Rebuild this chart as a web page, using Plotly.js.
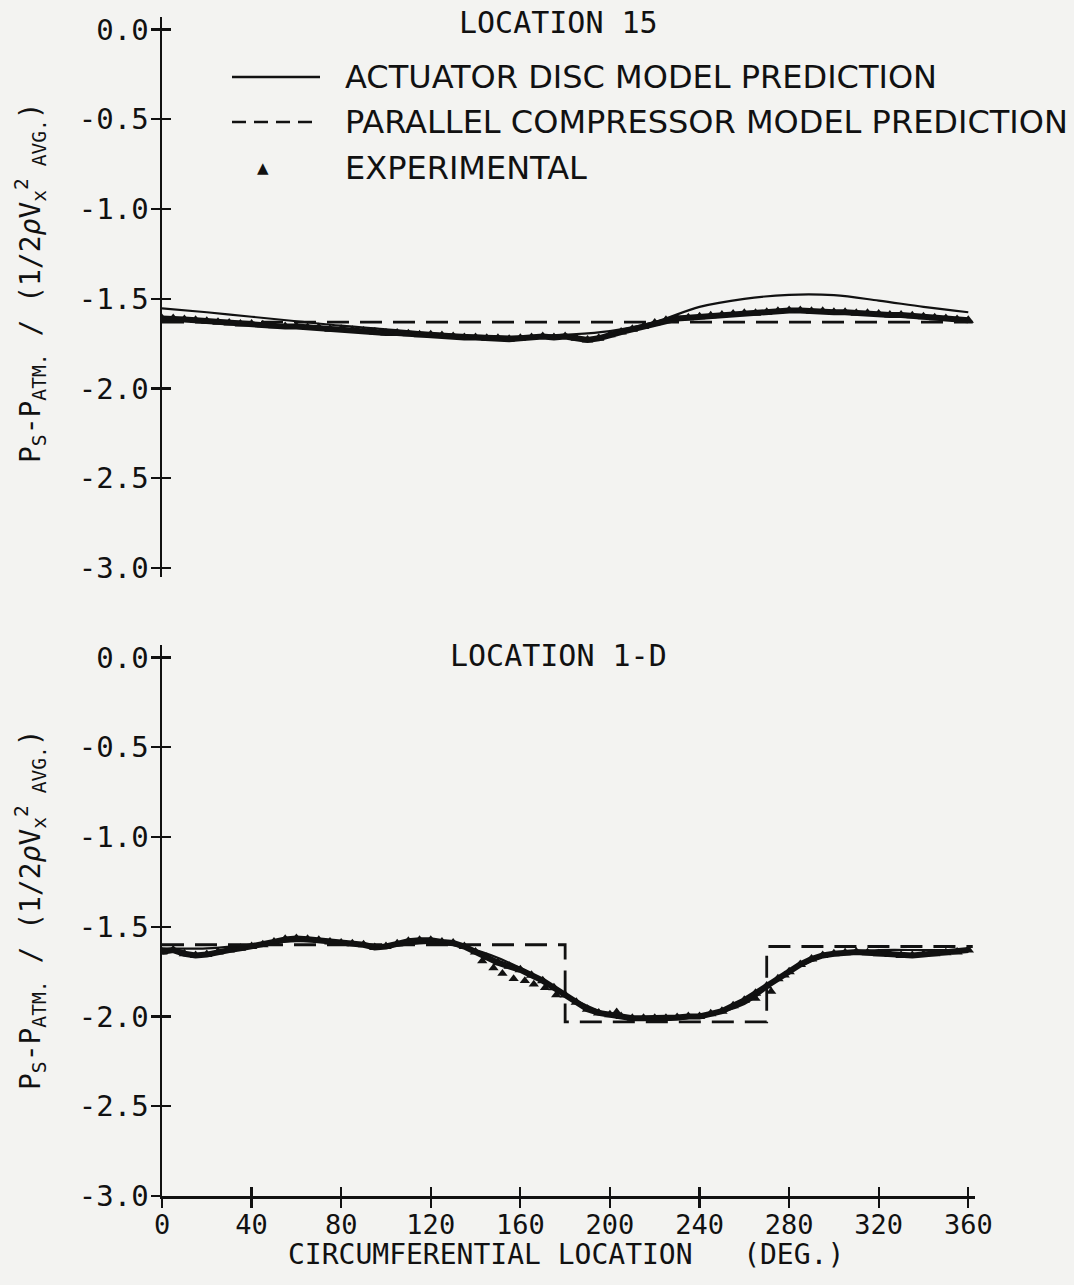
<!DOCTYPE html>
<html>
<head>
<meta charset="utf-8">
<script src="https://cdn.plot.ly/plotly-3.0.1.min.js"></script>
<style>
  html, body { margin: 0; padding: 0; background: #f3f3f1; }
  #chart { width: 1074px; height: 1285px; }
</style>
</head>
<body>
<div id="chart"></div>
<script>
// ---------------- DATA ----------------
// Tick labels
const yTickVals = [0, -0.5, -1.0, -1.5, -2.0, -2.5, -3.0];
const yTickLabels = ["0.0", "-0.5", "-1.0", "-1.5", "-2.0", "-2.5", "-3.0"];
const xTickVals = [0, 40, 80, 120, 160, 200, 240, 280, 320, 360];
const xTickLabels = ["0", "40", "80", "120", "160", "200", "240", "280", "320", "360"];

// Model prediction angles (deg)
const modelAngles = [0, 20, 40, 60, 80, 100, 120, 140, 160, 180, 200, 220, 240, 260, 280, 300, 320, 340, 360];

// LOCATION 15 - actuator disc model prediction
const loc15Actuator = [-1.553, -1.575, -1.600, -1.625, -1.650, -1.670, -1.690, -1.705, -1.710, -1.700, -1.680, -1.630, -1.545, -1.500, -1.478, -1.480, -1.510, -1.545, -1.575];
// LOCATION 15 - parallel compressor model prediction
const loc15ParallelAngles = [0, 362];
const loc15Parallel = [-1.63, -1.63];

// Experimental angles (deg)
const expAngles = [0, 5, 10, 15, 20, 25, 30, 35, 40, 45, 50, 55, 60, 65, 70, 75, 80, 85, 90, 95,
  100, 105, 110, 115, 120, 125, 130, 135, 140, 145, 150, 155, 160, 165, 170, 175, 180, 185, 190, 195,
  200, 205, 210, 215, 220, 225, 230, 235, 240, 245, 250, 255, 260, 265, 270, 275, 280, 285, 290, 295,
  300, 305, 310, 315, 320, 325, 330, 335, 340, 345, 350, 355, 360];

// LOCATION 15 - experimental
const loc15Exp = [-1.61, -1.61, -1.615, -1.62, -1.625, -1.63, -1.635, -1.64, -1.64, -1.645,
  -1.65, -1.655, -1.655, -1.66, -1.66, -1.67, -1.67, -1.675, -1.68, -1.685,
  -1.69, -1.69, -1.695, -1.70, -1.70, -1.705, -1.71, -1.715, -1.715, -1.72,
  -1.72, -1.725, -1.72, -1.715, -1.71, -1.715, -1.71, -1.72, -1.73, -1.72,
  -1.70, -1.685, -1.67, -1.655, -1.635, -1.62, -1.61, -1.605, -1.60, -1.595,
  -1.59, -1.585, -1.58, -1.58, -1.575, -1.57, -1.565, -1.565, -1.57, -1.57,
  -1.575, -1.575, -1.58, -1.58, -1.585, -1.59, -1.59, -1.595, -1.60, -1.605,
  -1.61, -1.615, -1.62];

// LOCATION 1-D - actuator disc model prediction
const loc1DActuator = [-1.62, -1.62, -1.60, -1.58, -1.59, -1.61, -1.59, -1.63, -1.73, -1.88, -1.99, -2.02, -2.00, -1.93, -1.75, -1.65, -1.63, -1.63, -1.63];
// LOCATION 1-D - parallel compressor model prediction (step profile)
const loc1DParallelAngles = [0, 180, 180, 270, 270, 362];
const loc1DParallel = [-1.60, -1.60, -2.03, -2.03, -1.61, -1.61];

// LOCATION 1-D - experimental
const loc1DExp = [-1.64, -1.63, -1.65, -1.66, -1.655, -1.64, -1.63, -1.62, -1.61, -1.60,
  -1.585, -1.57, -1.565, -1.57, -1.575, -1.585, -1.59, -1.595, -1.60, -1.615,
  -1.61, -1.595, -1.58, -1.575, -1.575, -1.585, -1.59, -1.61, -1.64, -1.67,
  -1.70, -1.72, -1.74, -1.77, -1.80, -1.84, -1.88, -1.92, -1.96, -1.98,
  -1.99, -2.00, -2.01, -2.01, -2.01, -2.01, -2.005, -2.00, -2.00, -1.985,
  -1.97, -1.94, -1.91, -1.87, -1.83, -1.79, -1.75, -1.71, -1.68, -1.66,
  -1.65, -1.645, -1.64, -1.645, -1.65, -1.655, -1.66, -1.66, -1.655, -1.65,
  -1.645, -1.64, -1.63];
// LOCATION 1-D - scattered experimental points off the main band
const loc1DScatterAngles = [143, 148, 152, 157, 162, 166, 171, 176, 203, 265, 272, 278];
const loc1DScatter = [-1.69, -1.73, -1.76, -1.79, -1.80, -1.82, -1.84, -1.88, -1.975, -1.90, -1.86, -1.77];

// ---------------- STYLE ----------------
const INK = "#111111";
const BG = "#f3f3f1";
const MONO = "DejaVu Sans Mono";
const SANS = "DejaVu Sans";

const xDomain = [162 / 1074, 975 / 1074];
const topDomain = [1 - 577 / 1285, 1 - 17 / 1285];
const botDomain = [1 - 1196 / 1285, 1 - 645 / 1285];

function expTrace(x, y, xa, ya) {
  return {
    x: x, y: y, xaxis: xa, yaxis: ya, type: "scatter", mode: "lines+markers",
    line: { color: INK, width: 6 },
    marker: { symbol: "triangle-up", size: 10, color: INK },
    showlegend: false, hoverinfo: "skip"
  };
}

const traces = [
  // Location 15
  expTrace(expAngles, loc15Exp, "x", "y"),
  { x: modelAngles, y: loc15Actuator, xaxis: "x", yaxis: "y", type: "scatter", mode: "lines",
    line: { color: INK, width: 2.2, shape: "spline" }, showlegend: false },
  { x: loc15ParallelAngles, y: loc15Parallel, xaxis: "x", yaxis: "y3", type: "scatter", mode: "lines",
    line: { color: INK, width: 2.8, dash: "22px,11px" }, showlegend: false },
  // Location 1-D
  expTrace(expAngles, loc1DExp, "x2", "y2"),
  { x: loc1DScatterAngles, y: loc1DScatter, xaxis: "x2", yaxis: "y2", type: "scatter", mode: "markers",
    marker: { symbol: "triangle-up", size: 9, color: INK }, showlegend: false },
  { x: modelAngles, y: loc1DActuator, xaxis: "x2", yaxis: "y2", type: "scatter", mode: "lines",
    line: { color: INK, width: 2.2, shape: "spline" }, showlegend: false },
  { x: loc1DParallelAngles, y: loc1DParallel, xaxis: "x4", yaxis: "y4", type: "scatter", mode: "lines",
    line: { color: INK, width: 2.8, dash: "22px,11px" }, showlegend: false }
];

function yAxis(domain, range, anchor, outside) {
  return {
    domain: domain, range: range, anchor: anchor, automargin: false,
    tickmode: "array", tickvals: yTickVals, ticktext: yTickLabels,
    ticks: outside ? "outside" : "inside", ticklen: 9, tickwidth: 2.2, tickcolor: INK,
    showticklabels: outside, tickfont: { family: MONO, size: 29, color: INK },
    ticklabelstandoff: -4,
    showline: outside, linecolor: INK, linewidth: 2.5,
    showgrid: false, zeroline: false, fixedrange: true
  };
}
function xAxis(anchor, outside) {
  return {
    domain: xDomain, range: [0, 363], anchor: anchor, automargin: false,
    tickmode: "array", tickvals: xTickVals, ticktext: xTickLabels,
    ticks: outside ? "outside" : "inside", ticklen: 9, tickwidth: 2.2, tickcolor: INK,
    showticklabels: outside, tickfont: { family: MONO, size: 27, color: INK },
    ticklabelstandoff: -6,
    showline: outside, linecolor: INK, linewidth: 2.5,
    showgrid: false, zeroline: false, fixedrange: true
  };
}

const yTitle = "P<sub>S</sub>-P<sub>ATM.</sub> / (1/2<i>ρ</i>V<sub>x</sub><sup>2</sup><sub> AVG.</sub>)";

const layout = {
  width: 1074, height: 1285,
  margin: { l: 0, r: 0, t: 0, b: 0 },
  paper_bgcolor: BG, plot_bgcolor: "rgba(0,0,0,0)",
  showlegend: false,
  xaxis: Object.assign({}, xAxis("y", true), { visible: false }),
  yaxis: yAxis(topDomain, [-3.05, 0.07], "x", true),
  yaxis3: Object.assign(yAxis(topDomain, [-3.05, 0.07], "x", false), { overlaying: "y" }),
  xaxis2: xAxis("y2", true),
  yaxis2: yAxis(botDomain, [-3.0, 0.07], "x2", true),
  xaxis4: Object.assign(xAxis("y4", false), { overlaying: "x2" }),
  yaxis4: Object.assign(yAxis(botDomain, [-3.0, 0.07], "x4", false), { overlaying: "y2" }),
  shapes: [
    // legend samples
    { type: "line", xref: "paper", yref: "paper", x0: 232 / 1074, x1: 320 / 1074, y0: 1 - 77 / 1285, y1: 1 - 77 / 1285,
      line: { color: INK, width: 2.5 } },
    { type: "line", xref: "paper", yref: "paper", x0: 232 / 1074, x1: 320 / 1074, y0: 1 - 122 / 1285, y1: 1 - 122 / 1285,
      line: { color: INK, width: 2.5, dash: "14px,8px" } }
  ],
  annotations: [
    { text: "LOCATION 15", xref: "paper", yref: "paper", x: 558 / 1074, y: 1 - 22 / 1285,
      xanchor: "center", yanchor: "middle", showarrow: false, font: { family: MONO, size: 30, color: INK } },
    { text: "LOCATION 1-D", xref: "paper", yref: "paper", x: 558 / 1074, y: 1 - 655 / 1285,
      xanchor: "center", yanchor: "middle", showarrow: false, font: { family: MONO, size: 30, color: INK } },
    { text: "ACTUATOR DISC MODEL PREDICTION", xref: "paper", yref: "paper", x: 343 / 1074, y: 1 - 77 / 1285,
      xanchor: "left", yanchor: "middle", showarrow: false, font: { family: SANS, size: 32, color: INK } },
    { text: "PARALLEL COMPRESSOR MODEL PREDICTION", xref: "paper", yref: "paper", x: 343 / 1074, y: 1 - 122 / 1285,
      xanchor: "left", yanchor: "middle", showarrow: false, font: { family: SANS, size: 32, color: INK } },
    { text: "EXPERIMENTAL", xref: "paper", yref: "paper", x: 343 / 1074, y: 1 - 168 / 1285,
      xanchor: "left", yanchor: "middle", showarrow: false, font: { family: SANS, size: 32, color: INK } },
    { text: "▲", xref: "paper", yref: "paper", x: 263 / 1074, y: 1 - 168 / 1285,
      xanchor: "center", yanchor: "middle", showarrow: false, font: { family: SANS, size: 15, color: INK } },
    { text: yTitle, xref: "paper", yref: "paper", x: 30 / 1074, y: 1 - 283 / 1285, textangle: -90,
      xanchor: "center", yanchor: "middle", showarrow: false, font: { family: MONO, size: 28, color: INK } },
    { text: yTitle, xref: "paper", yref: "paper", x: 30 / 1074, y: 1 - 910 / 1285, textangle: -90,
      xanchor: "center", yanchor: "middle", showarrow: false, font: { family: MONO, size: 28, color: INK } },
    { text: "CIRCUMFERENTIAL LOCATION   (DEG.)", xref: "paper", yref: "paper", x: 566 / 1074, y: 1 - 1254 / 1285,
      xanchor: "center", yanchor: "middle", showarrow: false, font: { family: MONO, size: 28, color: INK } }
  ]
};

Plotly.newPlot("chart", traces, layout, { displayModeBar: false, staticPlot: true });
</script>
</body>
</html>
